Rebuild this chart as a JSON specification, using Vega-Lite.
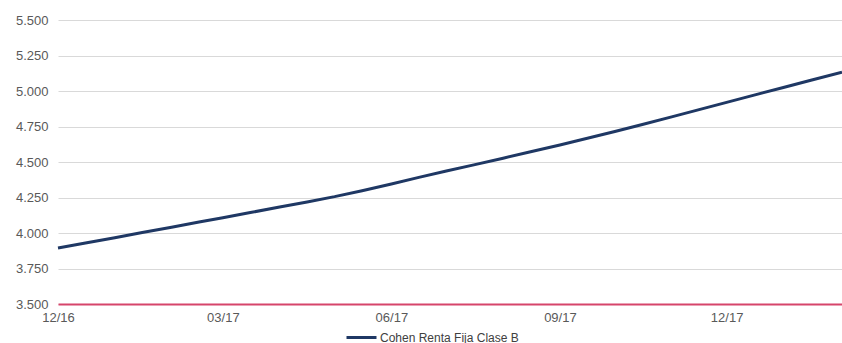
{
  "$schema": "https://vega.github.io/schema/vega-lite/v6.json",
  "width": 784,
  "height": 284,
  "autosize": {"type": "none"},
  "padding": {"left": 58, "top": 20, "right": 0, "bottom": 39},
  "background": "white",
  "config": {
    "view": {"stroke": null},
    "font": "Liberation Sans",
    "axis": {"labelFont": "Liberation Sans", "labelColor": "#595959", "labelFontSize": 13}
  },
  "data": {
    "values": [
      {"date": "2016-12-01", "value": 3.894, "serie": "Cohen Renta Fija Clase B"},
      {"date": "2016-12-16", "value": 3.929, "serie": "Cohen Renta Fija Clase B"},
      {"date": "2017-01-01", "value": 3.967, "serie": "Cohen Renta Fija Clase B"},
      {"date": "2017-01-16", "value": 4.003, "serie": "Cohen Renta Fija Clase B"},
      {"date": "2017-02-01", "value": 4.041, "serie": "Cohen Renta Fija Clase B"},
      {"date": "2017-02-16", "value": 4.077, "serie": "Cohen Renta Fija Clase B"},
      {"date": "2017-03-01", "value": 4.108, "serie": "Cohen Renta Fija Clase B"},
      {"date": "2017-03-16", "value": 4.144, "serie": "Cohen Renta Fija Clase B"},
      {"date": "2017-04-01", "value": 4.183, "serie": "Cohen Renta Fija Clase B"},
      {"date": "2017-04-16", "value": 4.219, "serie": "Cohen Renta Fija Clase B"},
      {"date": "2017-05-01", "value": 4.256, "serie": "Cohen Renta Fija Clase B"},
      {"date": "2017-05-16", "value": 4.298, "serie": "Cohen Renta Fija Clase B"},
      {"date": "2017-06-01", "value": 4.345, "serie": "Cohen Renta Fija Clase B"},
      {"date": "2017-06-16", "value": 4.392, "serie": "Cohen Renta Fija Clase B"},
      {"date": "2017-07-01", "value": 4.437, "serie": "Cohen Renta Fija Clase B"},
      {"date": "2017-07-16", "value": 4.480, "serie": "Cohen Renta Fija Clase B"},
      {"date": "2017-08-01", "value": 4.527, "serie": "Cohen Renta Fija Clase B"},
      {"date": "2017-08-16", "value": 4.572, "serie": "Cohen Renta Fija Clase B"},
      {"date": "2017-09-01", "value": 4.620, "serie": "Cohen Renta Fija Clase B"},
      {"date": "2017-09-16", "value": 4.667, "serie": "Cohen Renta Fija Clase B"},
      {"date": "2017-10-01", "value": 4.715, "serie": "Cohen Renta Fija Clase B"},
      {"date": "2017-10-16", "value": 4.764, "serie": "Cohen Renta Fija Clase B"},
      {"date": "2017-11-01", "value": 4.818, "serie": "Cohen Renta Fija Clase B"},
      {"date": "2017-11-16", "value": 4.869, "serie": "Cohen Renta Fija Clase B"},
      {"date": "2017-12-01", "value": 4.920, "serie": "Cohen Renta Fija Clase B"},
      {"date": "2017-12-16", "value": 4.971, "serie": "Cohen Renta Fija Clase B"},
      {"date": "2018-01-01", "value": 5.025, "serie": "Cohen Renta Fija Clase B"},
      {"date": "2018-01-16", "value": 5.076, "serie": "Cohen Renta Fija Clase B"},
      {"date": "2018-02-02", "value": 5.132, "serie": "Cohen Renta Fija Clase B"}
    ]
  },
  "mark": {"type": "line", "strokeWidth": 3},
  "encoding": {
    "x": {
      "field": "date",
      "type": "temporal",
      "scale": {
        "type": "utc",
        "domain": [
          {"year": 2016, "month": 12, "date": 1, "utc": true},
          {"year": 2018, "month": 2, "date": 2, "utc": true}
        ]
      },
      "axis": {
        "title": null,
        "format": "%m/%y",
        "values": [
          {"year": 2016, "month": 12, "date": 1, "utc": true},
          {"year": 2017, "month": 3, "date": 1, "utc": true},
          {"year": 2017, "month": 6, "date": 1, "utc": true},
          {"year": 2017, "month": 9, "date": 1, "utc": true},
          {"year": 2017, "month": 12, "date": 1, "utc": true}
        ],
        "grid": false,
        "ticks": false,
        "domainColor": "#d6456b",
        "domainWidth": 2,
        "labelPadding": 7,
        "labelFlush": false
      }
    },
    "y": {
      "field": "value",
      "type": "quantitative",
      "scale": {"domain": [3.5, 5.5], "nice": false, "zero": false},
      "axis": {
        "title": null,
        "values": [3.5, 3.75, 4.0, 4.25, 4.5, 4.75, 5.0, 5.25, 5.5],
        "format": ".3f",
        "domain": false,
        "ticks": false,
        "gridColor": "#d9d9d9",
        "gridWidth": 1,
        "labelPadding": 10
      }
    },
    "color": {
      "field": "serie",
      "type": "nominal",
      "scale": {"range": ["#1f3864"]},
      "legend": {
        "title": null,
        "orient": "none",
        "legendX": 287,
        "legendY": 301,
        "symbolType": "stroke",
        "symbolSize": 900,
        "symbolStrokeWidth": 3,
        "labelFontSize": 12,
        "labelColor": "#404040",
        "labelOffset": 2
      }
    }
  }
}
